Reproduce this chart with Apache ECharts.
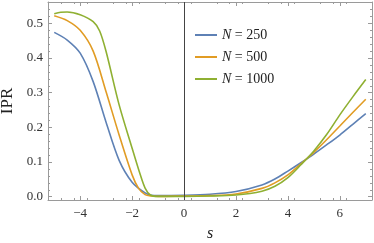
<!DOCTYPE html>
<html><head><meta charset="utf-8">
<script src="https://cdn.jsdelivr.net/npm/echarts@6/dist/echarts.min.js"></script>
<style>html,body{margin:0;padding:0;background:#fff}#c{width:374px;height:243px}</style>
</head><body><div id="c"></div>
<script>
const xTicks = [-4, -2, 0, 2, 4, 6];
const yTicks = [0.0, 0.1, 0.2, 0.3, 0.4, 0.5];
const names = ['250', '500', '1000'];
const sN250 = [[-5,0.474],[-4.5,0.452],[-4,0.414],[-3.5,0.332],[-3,0.214],[-2.5,0.105],[-2,0.042],[-1.5,0.011],[-1.25,0.004],[-1,0.003],[0,0.004],[1,0.007],[2,0.015],[3,0.034],[3.5,0.051],[4,0.074],[4.5,0.098],[5,0.123],[5.5,0.150],[6,0.178],[6.5,0.209],[7,0.240]];
const sN500 = [[-5,0.522],[-4.5,0.508],[-4,0.480],[-3.5,0.420],[-3,0.302],[-2.5,0.178],[-2,0.063],[-1.75,0.024],[-1.5,0.006],[-1.25,0.002],[-1,0.001],[0,0.002],[1,0.003],[2,0.008],[3,0.024],[3.5,0.040],[4,0.063],[4.5,0.095],[5,0.128],[5.5,0.165],[6,0.204],[6.5,0.243],[7,0.281]];
const sN1000 = [[-5,0.528],[-4.75,0.532],[-4.5,0.533],[-4,0.525],[-3.5,0.505],[-3.25,0.478],[-3,0.418],[-2.5,0.265],[-2,0.140],[-1.7,0.067],[-1.5,0.025],[-1.3,0.005],[-1,0.001],[0,0.001],[1,0.002],[2,0.005],[3,0.016],[3.5,0.030],[4,0.055],[4.5,0.092],[5,0.132],[5.5,0.180],[6,0.236],[6.5,0.288],[7,0.338]];
const colors = ['#5E81B5', '#E19C24', '#8FB032'];
const font = '"Liberation Serif", "DejaVu Serif", serif';
const chart = echarts.init(document.getElementById('c'));
const frame = {show:true, onZero:false, lineStyle:{color:'#9a9a9a', width:1}};
const tick = {show:true, inside:true, length:4, lineStyle:{color:'#9a9a9a'}};
const minor = {show:true, splitNumber:4, length:2, lineStyle:{color:'#9a9a9a'}};
const minorY = {show:true, splitNumber:5, length:2, lineStyle:{color:'#9a9a9a'}};
chart.setOption({
  animation:false,
  color: colors,
  grid:{left:48, right:2, top:2, bottom:43, containLabel:false, outerBoundsMode:'none'},
  xAxis:[
    {type:'value', min:-5.24, max:7.24, interval:2, position:'bottom',
     axisLine:frame, minorTick:minor, splitLine:{show:false},
     axisLabel:{fontFamily:font, fontSize:13, color:'#333', margin:7,
       customValues: xTicks, formatter:v=>(v<0?'\u2212'+(-v):String(v))},
     axisTick:Object.assign({customValues:xTicks}, tick),
     name:'s', nameLocation:'middle', nameGap:26,
     nameTextStyle:{fontFamily:font, fontStyle:'italic', fontSize:16, color:'#222'}},
    {type:'value', min:-5.24, max:7.24, interval:2, position:'top',
     axisLine:frame, axisTick:Object.assign({customValues:xTicks}, tick), minorTick:minor,
     splitLine:{show:false}, axisLabel:{show:false}}
  ],
  yAxis:[
    {type:'value', min:-0.0095, max:0.5617, position:'left',
     axisLine:frame, axisTick:Object.assign({customValues:yTicks}, tick), minorTick:minorY, splitLine:{show:false},
     axisLabel:{fontFamily:font, fontSize:13, color:'#333', margin:5,
       customValues: yTicks, formatter:v=>v.toFixed(1)},
     name:'IPR', nameLocation:'middle', nameGap:30,
     nameTextStyle:{fontFamily:font, fontSize:17, color:'#222'}},
    {type:'value', min:-0.0095, max:0.5617, position:'right',
     axisLine:frame, axisTick:Object.assign({customValues:yTicks}, tick), minorTick:minorY,
     splitLine:{show:false}, axisLabel:{show:false}}
  ],
  legend:{orient:'vertical', left:190, top:23, itemWidth:22, itemHeight:2, icon:'rect', itemGap:8,
    data:names.map(n=>'N = '+n),
    formatter: n => '{i|N} = ' + n.split('= ')[1],
    textStyle:{fontFamily:font, fontSize:14, color:'#222',
      rich:{i:{fontFamily:font, fontStyle:'italic', fontSize:14, color:'#222'}}}},
  series:[
    {name:'N = 250', type:'line', data:sN250, smooth:0.3, symbol:'none', lineStyle:{width:1.6}},
    {name:'N = 500', type:'line', data:sN500, smooth:0.3, symbol:'none', lineStyle:{width:1.6}},
    {name:'N = 1000', type:'line', data:sN1000, smooth:0.3, symbol:'none', lineStyle:{width:1.6},
     markLine:{silent:true, symbol:'none', label:{show:false}, lineStyle:{color:'#444', width:1, type:'solid'},
       data:[{xAxis:0}]}}
  ]
});
</script></body></html>
